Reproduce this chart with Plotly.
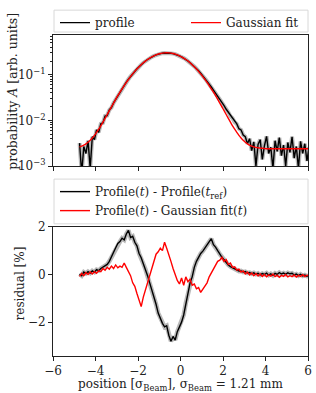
import numpy as np
import plotly.graph_objects as go

# ---------------- data ----------------
# position grid [sigma_Beam]
position = np.round(-4.75 + 0.1 * np.arange(109), 2)

profile = [
    0.0032, 0.0007, 0.0027, 0.0019, 0.0036, 0.0009, 0.0044, 0.0038, 0.0062, 0.0055,
    0.0085, 0.0088, 0.0125, 0.0128, 0.0170, 0.0192, 0.0243, 0.0292, 0.0352, 0.0418,
    0.0500, 0.0588, 0.0690, 0.0800, 0.0925, 0.1055, 0.1200, 0.1350, 0.1505, 0.1670,
    0.1835, 0.2000, 0.2160, 0.2315, 0.2460, 0.2595, 0.2715, 0.2820, 0.2905, 0.2965,
    0.3000, 0.3010, 0.2995, 0.2960, 0.2900, 0.2820, 0.2720, 0.2600, 0.2465, 0.2320,
    0.2165, 0.2005, 0.1840, 0.1680, 0.1520, 0.1365, 0.1220, 0.1080, 0.0950, 0.0830,
    0.0720, 0.0625, 0.0540, 0.0462, 0.0398, 0.0338, 0.0290, 0.0245, 0.0212, 0.0176,
    0.0152, 0.0124, 0.0112, 0.0092, 0.0084, 0.0066, 0.0062, 0.0048, 0.0044, 0.0031,
    0.0040, 0.0022, 0.0034, 0.0010, 0.0030, 0.0038, 0.0014, 0.0028, 0.0045, 0.0019,
    0.0026, 0.0009, 0.0036, 0.0021, 0.0042, 0.0017, 0.0029, 0.0010, 0.0033, 0.0020,
    0.0044, 0.0015, 0.0027, 0.0009, 0.0035, 0.0019, 0.0031, 0.0013, 0.0026,
]

gaussian_fit = [
    0.00265, 0.00276, 0.00290, 0.00309, 0.00334, 0.00368, 0.00413, 0.00471, 0.00547, 0.00643,
    0.00765, 0.00919, 0.0111, 0.0135, 0.0164, 0.0198, 0.0240, 0.0290, 0.0348, 0.0415,
    0.0493, 0.0581, 0.0681, 0.0791, 0.0913, 0.1046, 0.1188, 0.1339, 0.1497, 0.1661,
    0.1827, 0.1994, 0.2158, 0.2315, 0.2465, 0.2602, 0.2724, 0.2829, 0.2912, 0.2974,
    0.3011, 0.3024, 0.3011, 0.2974, 0.2912, 0.2829, 0.2724, 0.2602, 0.2465, 0.2315,
    0.2158, 0.1994, 0.1827, 0.1661, 0.1497, 0.1339, 0.1188, 0.1046, 0.0913, 0.0791,
    0.0681, 0.0581, 0.0493, 0.0415, 0.0348, 0.0290, 0.0240, 0.0198, 0.0164, 0.0135,
    0.0111, 0.00919, 0.00765, 0.00643, 0.00547, 0.00471, 0.00413, 0.00368, 0.00334, 0.00309,
    0.00290, 0.00276, 0.00265, 0.00258, 0.00253, 0.00249, 0.00246, 0.00244, 0.0024, 0.0024,
    0.0024, 0.0024, 0.0024, 0.0024, 0.0024, 0.0024, 0.0024, 0.0024, 0.0024, 0.0024,
    0.0024, 0.0024, 0.0024, 0.0024, 0.0024, 0.0024, 0.0024, 0.0024, 0.0024,
]

resid_profile_ref = [
    0.02, -0.05, 0.10, 0.04, 0.12, 0.06, 0.15, 0.10, 0.20, 0.16,
    0.25, 0.30, 0.38, 0.42, 0.55, 0.72, 0.92, 1.12, 1.30, 1.38,
    1.52, 1.45, 1.70, 1.85, 1.55, 1.60, 1.35, 1.20, 0.88, 0.70,
    0.45, 0.22, -0.05, -0.35, -0.62, -0.98, -1.25, -1.62, -1.85, -2.05,
    -2.20, -2.15, -2.55, -2.80, -2.60, -2.75, -2.40, -2.20, -2.00, -1.70,
    -1.20, -0.80, -0.35, -0.10, 0.30, 0.55, 0.75, 0.88, 0.98, 1.10,
    1.22, 1.35, 1.50, 1.25, 1.15, 1.00, 0.85, 0.72, 0.62, 0.50,
    0.40, 0.33, 0.28, 0.22, 0.18, 0.14, 0.15, 0.10, 0.12, 0.06,
    0.08, 0.03, 0.07, 0.01, 0.05, -0.02, 0.04, 0.00, 0.06, -0.03,
    0.03, -0.04, 0.05, 0.00, 0.08, 0.02, 0.06, 0.01, 0.07, 0.03,
    0.05, -0.02, 0.02, -0.05, 0.01, -0.06, -0.02, -0.07, -0.04,
]

resid_profile_fit = [
    -0.08, 0.05, -0.05, 0.08, 0.00, 0.10, 0.02, 0.12, 0.05, 0.15,
    0.12, 0.25, 0.18, 0.30, 0.22, 0.35, 0.25, 0.40, 0.28, 0.35,
    0.30, 0.48, 0.30, 0.10, -0.05, -0.35, -0.50, -0.80, -1.10, -1.35,
    -0.95, -0.65, -0.30, 0.00, 0.30, 0.60, 0.85, 0.95, 1.10, 1.00,
    1.35, 1.10, 0.85, 0.55, 0.25, 0.00, -0.25, -0.40, -0.15, -0.45,
    -0.10, -0.30, -0.20, -0.45, -0.40, -0.60, -0.55, -0.75, -0.62, -0.50,
    -0.35, -0.10, 0.05, 0.25, 0.38, 0.55, 0.60, 0.72, 0.55, 0.62,
    0.42, 0.48, 0.30, 0.32, 0.18, 0.22, 0.10, 0.15, 0.02, 0.10,
    -0.02, 0.06, -0.05, 0.04, -0.06, 0.02, -0.08, 0.00, -0.10, -0.02,
    -0.07, 0.02, -0.09, -0.03, -0.12, -0.04, -0.08, 0.00, -0.10, -0.05,
    -0.09, -0.02, -0.11, -0.04, -0.08, -0.01, -0.09, -0.03, -0.06,
]

x_ticks = [-6, -4, -2, 0, 2, 4, 6]
x_ticktext = ["\u22126", "\u22124", "\u22122", "0", "2", "4", "6"]
top_yticks = [0.001, 0.01, 0.1]
top_yticktext = ["10<sup>\u22123</sup>", "10<sup>\u22122</sup>", "10<sup>\u22121</sup>"]
bot_yticks = [-2, 0, 2]
bot_yticktext = ["\u22122", "0", "2"]

# ---------------- figure ----------------
FONT = "DejaVu Serif"
W, H = 316, 393
ML, MR, MT, MB = 53, 8, 33, 37
PH = H - MT - MB

def py(pix):
    return (H - MB - pix) / PH

def px(pix):
    return (pix - ML) / (W - ML - MR)

fig = go.Figure()

# top panel
fig.add_trace(go.Scatter(x=position, y=profile, mode="lines", showlegend=False,
                         line=dict(color="rgba(0,0,0,0.28)", width=4), hoverinfo="skip",
                         xaxis="x", yaxis="y"))
fig.add_trace(go.Scatter(x=position, y=profile, mode="lines", name="profile",
                         line=dict(color="black", width=1.4), legend="legend",
                         xaxis="x", yaxis="y"))
fig.add_trace(go.Scatter(x=position, y=gaussian_fit, mode="lines", name="Gaussian fit",
                         line=dict(color="red", width=1.4, shape="spline"), legend="legend3",
                         xaxis="x", yaxis="y"))

# bottom panel
fig.add_trace(go.Scatter(x=position, y=resid_profile_ref, mode="lines", showlegend=False,
                         line=dict(color="rgba(0,0,0,0.28)", width=4.5), hoverinfo="skip",
                         xaxis="x2", yaxis="y2"))
fig.add_trace(go.Scatter(x=position, y=resid_profile_ref, mode="lines",
                         name="Profile(<i>t</i>) - Profile(<i>t</i><sub>ref</sub>)",
                         line=dict(color="black", width=1.4), legend="legend2",
                         xaxis="x2", yaxis="y2"))
fig.add_trace(go.Scatter(x=position, y=resid_profile_fit, mode="lines",
                         name="Profile(<i>t</i>) - Gaussian fit(<i>t</i>)",
                         line=dict(color="red", width=1.4), legend="legend2",
                         xaxis="x2", yaxis="y2"))

axis_common = dict(showline=True, linecolor="#222", linewidth=1, mirror=True,
                   showgrid=False, zeroline=False, ticks="outside", ticklen=4,
                   tickcolor="#222", automargin=False,
                   tickfont=dict(family=FONT, size=12, color="#222"))

top_dom = [py(165), py(33)]
bot_dom = [0, py(226)]

legend_common = dict(bgcolor="rgba(0,0,0,0)", borderwidth=0, xanchor="left", yanchor="top",
                     font=dict(family=FONT, size=12, color="#222"), tracegroupgap=0)

fig.update_layout(
    width=W, height=H,
    margin=dict(l=ML, r=MR, t=MT, b=MB),
    paper_bgcolor="white", plot_bgcolor="white",
    font=dict(family=FONT, size=12, color="#222"),
    xaxis=dict(**axis_common, domain=[0, 1], range=[-6, 6], tickvals=x_ticks,
               showticklabels=False, anchor="y"),
    yaxis=dict(**axis_common, domain=top_dom, type="log", range=[-3, -0.13],
               tickvals=top_yticks, ticktext=top_yticktext,
               minor=dict(ticks="outside", ticklen=2, tickcolor="#222", dtick="D1", showgrid=False),
               anchor="x"),
    xaxis2=dict(**axis_common, domain=[0, 1], range=[-6, 6], tickvals=x_ticks,
                ticktext=x_ticktext, anchor="y2",
                title=dict(text="position [\u03c3<sub>Beam</sub>], \u03c3<sub>Beam</sub> = 1.21 mm",
                           standoff=0, font=dict(family=FONT, size=12))),
    yaxis2=dict(**axis_common, domain=bot_dom, range=[-3.42, 2.0],
                tickvals=bot_yticks, ticktext=bot_yticktext, anchor="x2"),
    legend=dict(**legend_common, orientation="v", x=px(55), y=py(6)),
    legend3=dict(**legend_common, orientation="v", x=px(186), y=py(6)),
    legend2=dict(**legend_common, orientation="v", x=px(55), y=py(176)),
    annotations=[
        dict(text="probability <i>A</i> [arb. units]", xref="paper", yref="paper",
             x=px(13), y=py(90), xanchor="center", yanchor="middle", textangle=-90,
             showarrow=False, font=dict(family=FONT, size=12.5, color="#222")),
        dict(text="residual [%]", xref="paper", yref="paper",
             x=px(20), y=py(283), xanchor="center", yanchor="middle", textangle=-90,
             showarrow=False, font=dict(family=FONT, size=12, color="#222")),
    ],
    shapes=[
        dict(type="rect", xref="paper", yref="paper", x0=px(54), x1=px(308),
             y0=py(30), y1=py(8), line=dict(color="#d8d8d8", width=1),
             fillcolor="white", layer="below"),
        dict(type="rect", xref="paper", yref="paper", x0=px(54), x1=px(308),
             y0=py(223), y1=py(178), line=dict(color="#d8d8d8", width=1),
             fillcolor="white", layer="below"),
    ],
)

fig.write_html("out.html", config={"displayModeBar": False},
               post_script="document.body.style.margin='0';document.body.style.padding='0';")
